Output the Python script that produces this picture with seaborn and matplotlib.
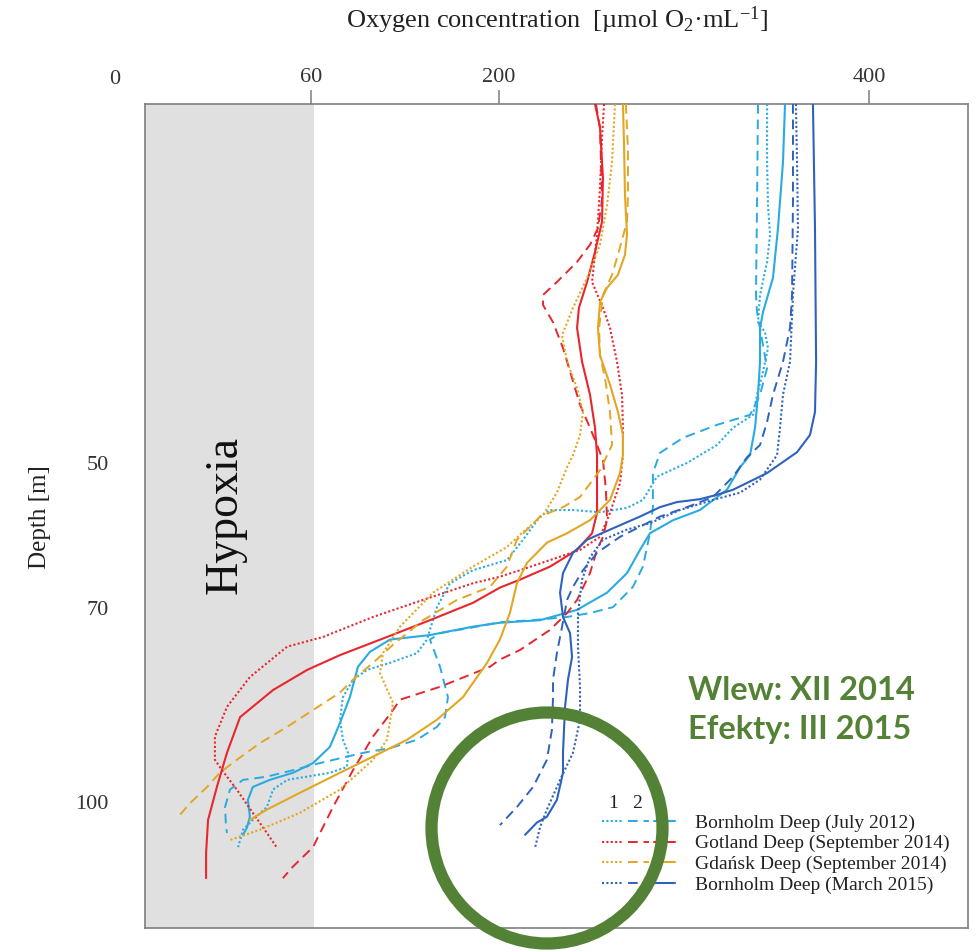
import numpy as np
import matplotlib
matplotlib.use("Agg")
import matplotlib.pyplot as plt
from matplotlib.lines import Line2D
from matplotlib.legend_handler import HandlerTuple
from matplotlib.patches import Ellipse
import seaborn as sns

# ---------------- data (oxygen [umol/mL], depth [m]) ----------------
# Bornholm Deep (July 2012) - cyan
bh12_1_o2 = [344.9,344.9,345.4,346.5,344.9,341.1,340.0,343.8,345.4,342.7,339.5,337.3,326.5,317.8,301.6,285.4,277.8,269.2,254.6,240.0,227.6,222.2,213.0,204.3,180.6,163.5,153.8,148.6,146.4,138.9,118.8,101.7,91.3,83.8,81.6,83.8,87.6,86.8,74.1,58.8,52.7,48.4,46.5,42.2,39.2,37.7]
bh12_1_dep = [0,8.1,14.1,18.2,22.0,26.6,30.4,31.8,34.0,37.3,40.5,43.3,45.1,47.5,50.0,51.9,55.1,56.2,56.8,56.5,56.5,57.4,60.6,63.4,64.8,66.6,69.9,73.4,74.9,77.0,78.5,79.6,81.1,83.8,87.3,90.4,92.4,94.6,95.5,96.1,96.6,98.1,100.8,102.8,104.3,107.0]
bh12_2_o2 = [340.0,339.5,338.9,339.5,342.7,344.9,341.1,335.7,317.8,299.5,287.0,283.2,283.2,281.6,277.8,272.4,261.6,249.2,236.8,218.4,200.5,178.4,156.1,148.6,156.1,162.0,159.8,153.8,138.9,118.8,101.7,86.8,66.7,54.5,46.5,39.2,35.2,33.7,34.0,34.3]
bh12_2_dep = [0,13.4,26.6,29.0,33.6,36.8,40.5,43.3,44.7,46.5,48.6,51.4,56.1,59.7,64.3,67.1,69.9,70.8,71.4,71.9,72.2,73.1,73.9,74.9,79.1,83.8,86.9,88.4,90.4,91.7,92.3,93.0,94.0,95.1,96.1,96.6,98.1,100.8,103.9,104.8]
bh12_3_o2 = [354.6,353.5,350.8,348.1,342.7,341.1,341.1,340.0,338.4,335.7,330.3,323.2,308.6,294.1,281.6,276.2,269.2,258.4,242.2,222.2,200.5,180.6,148.6,118.8,103.9,95.0,89.0,81.6,74.1,61.5,54.5,47.4,42.2,40.7,41.3,40.4,39.2]
bh12_3_dep = [0,8.1,17.3,24.2,29.0,31.2,35.9,40.5,45.1,48.9,50.6,53.7,56.5,57.9,59.7,62.0,65.2,67.9,70.3,71.9,72.3,72.9,74.2,74.9,76.8,79.1,83.8,87.8,91.5,94.0,95.5,96.6,97.7,99.7,102.3,104.0,105.1]

# Gotland Deep (September 2014) - red
gd14_1_o2 = [256.8,255.7,254.6,253.0,250.3,256.2,260.0,263.8,266.5,267.0,267.0,265.4,260.0,254.6,243.8,227.6,211.4,200.5,180.6,143.4,106.2,68.9,52.7,41.3,34.3,30.6,30.6,32.8,37.3,42.2,46.5,49.6]
gd14_1_dep = [0,4.7,11.7,18.2,24.8,28.4,31.2,35.9,40.5,45.1,48.9,52.8,56.9,60.2,62.0,63.4,64.8,65.7,66.6,68.9,71.4,74.5,76.0,80.7,85.3,89.9,93.5,95.1,98.1,101.7,104.8,107.1]
gd14_2_o2 = [252.4,254.6,255.7,253.5,249.2,242.2,231.3,223.8,223.8,229.2,234.6,239.5,243.8,249.2,253.0,256.2,257.8,258.4,256.2,253.0,249.2,242.2,236.8,227.6,211.4,200.5,193.3,156.1,126.3,121.1,106.2,91.3,76.4,61.5,54.5,51.4]
gd14_2_dep = [0,3.3,13.4,17.3,19.6,22.0,24.8,26.6,28.0,30.4,34.0,38.2,41.9,45.1,47.5,49.6,53.7,57.9,60.2,62.0,65.2,68.9,70.8,73.4,76.5,78.0,79.1,82.2,84.2,85.8,89.9,95.1,100.8,107.0,110.0,111.8]
gd14_3_o2 = [251.9,254.6,256.2,255.7,251.9,247.6,243.2,242.2,244.9,249.2,251.9,253.0,253.0,250.3,242.2,227.6,211.4,200.5,180.6,148.6,116.6,81.6,58.8,48.4,38.3,34.3,31.2,28.5,27.9,27.9]
gd14_3_dep = [0,3.3,10.3,16.4,20.6,24.8,28.4,31.2,35.9,40.5,45.1,48.9,56.9,59.7,62.0,64.3,66.1,67.2,69.3,71.9,74.5,77.3,79.6,82.7,86.9,92.4,97.7,102.8,107.9,111.8]

# Gdansk Deep (September 2014) - yellow
gk14_1_o2 = [262.7,261.1,258.4,254.6,247.6,240.0,234.1,236.8,242.2,245.4,243.8,240.0,236.8,231.3,223.8,211.4,204.3,180.6,150.9,126.3,113.6,111.4,121.1,116.6,106.2,81.6,56.6,44.4,35.2]
gk14_1_dep = [0,8.1,14.1,19.6,24.2,28.4,32.2,35.9,39.6,42.9,46.1,48.9,50.6,54.1,57.2,59.9,61.6,64.3,67.9,72.9,77.0,80.1,84.7,90.4,93.5,98.1,101.7,104.3,105.9]
gk14_2_o2 = [268.6,269.7,269.7,269.2,264.3,261.1,256.2,254.1,254.6,257.3,260.0,261.1,254.6,243.8,234.6,222.2,209.7,204.3,193.3,168.7,143.4,121.1,106.2,91.3,81.6,61.5,52.7,44.4,37.3,32.1,28.2,23.0,19.9]
gk14_2_dep = [0,6.4,12.7,16.4,21.0,23.8,26.6,31.2,35.0,38.2,42.9,47.5,51.0,54.7,56.1,57.4,60.6,64.3,67.1,68.9,71.9,75.7,78.5,81.1,83.1,85.8,88.4,90.9,93.5,95.5,97.7,100.2,102.0]
gk14_3_o2 = [267.0,267.6,268.1,269.2,268.1,264.3,258.4,254.6,253.5,254.6,260.0,264.3,267.0,267.0,265.4,260.0,249.2,236.8,225.9,215.1,209.7,205.9,200.5,191.1,173.2,153.8,131.5,106.2,81.6,56.6,46.5,41.3]
gk14_3_dep = [0,5.7,12.7,18.2,21.0,23.8,25.6,27.6,31.2,35.0,39.1,42.9,46.1,48.9,51.4,55.1,57.9,59.7,61.0,63.8,66.6,70.8,74.9,78.5,83.8,87.3,90.4,93.0,95.5,98.6,101.2,102.8]

# Bornholm Deep (March 2015) - blue
bh15_1_o2 = [360.5,361.1,361.6,358.9,357.3,353.5,351.9,350.3,341.1,330.3,315.7,297.8,281.6,269.2,256.2,249.2,244.9,242.7,242.7,243.8,243.8,240.0,233.0,225.9,222.2,219.5]
bh15_1_dep = [0,8.1,17.3,26.6,35.9,40.5,45.1,48.9,52.3,54.1,55.1,56.5,58.3,59.2,60.6,63.0,66.1,70.8,76.0,82.2,87.3,92.4,96.6,101.2,103.9,107.1]
bh15_2_o2 = [358.9,358.9,358.4,357.3,353.5,348.1,344.9,341.1,334.1,326.5,315.7,301.6,287.0,276.2,265.4,253.0,245.4,240.0,236.8,234.1,231.3,229.2,229.2,228.6,225.9,218.4,209.7,200.5]
bh15_2_dep = [0,13.4,26.6,31.2,35.9,40.5,44.3,47.5,49.2,51.9,54.7,56.1,57.4,58.8,60.2,62.4,64.8,67.1,68.9,72.9,77.0,81.1,83.8,88.9,93.5,97.7,100.8,103.6]
bh15_3_o2 = [369.7,370.8,371.4,370.8,368.1,361.1,344.9,326.5,317.8,308.6,296.2,287.0,276.2,260.0,247.6,240.0,234.6,233.0,234.6,238.4,239.5,237.3,235.7,234.6,234.6,231.3,225.9,220.5,214.1]
bh15_3_dep = [0,17.3,35.9,42.9,46.1,48.5,51.4,53.7,54.4,55.0,55.4,56.1,57.4,59.2,60.6,62.4,65.2,67.9,71.4,73.9,77.6,81.1,85.3,92.4,95.5,99.7,102.3,103.2,105.1]

station_labels = ["Bornholm Deep (July 2012)", "Gotland Deep (September 2014)",
                  "Gdańsk Deep (September 2014)", "Bornholm Deep (March 2015)"]
profile_numbers = ["1", "2", "3"]
x_ticks = [60, 200, 400]
y_ticks = [50, 70, 100]
hypoxia_limit = 62

# ---------------- style ----------------
sns.set_style("white")
plt.rcParams["font.family"] = ["Liberation Serif", "DejaVu Serif"]
plt.rcParams["mathtext.fontset"] = "custom"
plt.rcParams["mathtext.rm"] = "Liberation Serif"
plt.rcParams["mathtext.it"] = "Liberation Serif:italic"
plt.rcParams["mathtext.bf"] = "Liberation Serif:bold"

colors = ["#29ABE2", "#E8262D", "#E3A623", "#2E62BC"]
styles = [(0, (1, 1.1)), (0, (5, 3)), "-"]
widths = [1.5, 1.4, 1.5]

W, H = 978, 952
fig = plt.figure(figsize=(W / 100, H / 100), dpi=100)
ax = fig.add_axes([145 / W, (H - 928) / H, (968 - 145) / W, (928 - 104) / H])

# piecewise-linear axes as in the original figure
XB = np.array([-100, 0, 60, 200, 400, 600], float)
XP = np.array([-326.7, 0, 196, 384, 754, 1124], float)
YB = np.array([-50, 0, 50, 70, 100, 200], float)
YP = np.array([-359, 0, 359, 504, 698, 1345], float)

def fx(v): return np.interp(v, XB, XP)
def ix(v): return np.interp(v, XP, XB)
def fy(v): return np.interp(v, YB, YP)
def iy(v): return np.interp(v, YP, YB)

ax.set_xscale("function", functions=(fx, ix))
ax.set_yscale("function", functions=(fy, iy))

ax.axvspan(0, hypoxia_limit, color="#E0E0E0", lw=0, zorder=0)

series = [
    [(bh12_1_o2, bh12_1_dep), (bh12_2_o2, bh12_2_dep), (bh12_3_o2, bh12_3_dep)],
    [(gd14_1_o2, gd14_1_dep), (gd14_2_o2, gd14_2_dep), (gd14_3_o2, gd14_3_dep)],
    [(gk14_1_o2, gk14_1_dep), (gk14_2_o2, gk14_2_dep), (gk14_3_o2, gk14_3_dep)],
    [(bh15_1_o2, bh15_1_dep), (bh15_2_o2, bh15_2_dep), (bh15_3_o2, bh15_3_dep)],
]
for ci, station in enumerate(series):
    for si, (o2, dep) in enumerate(station):
        sns.lineplot(x=o2, y=dep, sort=False, estimator=None, ax=ax,
                     color=colors[ci], linestyle=styles[si], lw=widths[si], zorder=3)

ax.set_xlim(9.2, 453.5)
ax.set_ylim(119.5, 0)
ax.set_xlabel("")
ax.set_ylabel("")

ax.xaxis.tick_top()
ax.set_xticks(x_ticks)
ax.set_xticklabels([str(t) for t in x_ticks])
ax.set_yticks(y_ticks)
ax.set_yticklabels([str(t) for t in y_ticks])
ax.tick_params(axis="x", which="both", direction="out", length=10, width=1.1,
               color="#7F7F7F", pad=2, labelsize=16, labelcolor="#333333")
ax.tick_params(axis="y", which="both", direction="out", length=10, width=1.1,
               color="#7F7F7F", pad=16, labelsize=16, labelcolor="#333333")
ax.minorticks_off()
for s in ax.spines.values():
    s.set_visible(True)
    s.set_color("#7F7F7F")
    s.set_linewidth(1.2)

# the "0" label sits left of the plotting area
fig.text(115 / W, 1 - 80 / H, "0", ha="center", va="center", fontsize=16, color="#333333")

# texts
fig.text(557 / W, 1 - 20 / H, r"Oxygen concentration  [µmol O$_2$·mL$^{-1}$]",
         ha="center", va="center", fontsize=19, color="#222222")
fig.text(40 / W, 1 - 517 / H, "Depth [m]", rotation=90, ha="center", va="center",
         fontsize=18, color="#222222")
ax.text(33.7, 57.2, "Hypoxia", rotation=90, ha="center", va="center",
        fontsize=33, color="#111111", zorder=2)

# legend
handles = []
for c in colors:
    handles.append(tuple(Line2D([], [], color=c, linestyle=styles[k], lw=widths[k]) for k in range(3)))
leg = ax.legend(handles, station_labels, handler_map={tuple: HandlerTuple(ndivide=None, pad=0.27)},
                loc="upper left", bbox_to_anchor=(602 / W, 1 - 814 / H),
                bbox_transform=fig.transFigure, frameon=False, fontsize=14,
                handlelength=3.75, handletextpad=1.03, labelspacing=0.16,
                borderpad=0, borderaxespad=0)
for t in leg.get_texts():
    t.set_color("#222222")
for xpx, lab in zip([613, 637, 660], profile_numbers):
    fig.text(xpx / W, 1 - 803 / H, lab, ha="center", va="center", fontsize=14, color="#222222")

# annotation
green = "#538135"
fig.text(688 / W, 1 - 690 / H, "Wlew: XII 2014", ha="left", va="center",
         fontsize=23.5, fontweight="bold", family=["Lato", "DejaVu Sans"], color=green)
fig.text(688 / W, 1 - 730 / H, "Efekty: III 2015", ha="left", va="center",
         fontsize=23.5, fontweight="bold", family=["Lato", "DejaVu Sans"], color=green)
ring = Ellipse((547 / W, 1 - 828 / H), 2 * 115.5 / W, 2 * 115.5 / H,
               transform=fig.transFigure, fill=False, edgecolor=green, lw=8.8, zorder=20)
fig.add_artist(ring)

fig.savefig("out.png", dpi=100, facecolor="white")
